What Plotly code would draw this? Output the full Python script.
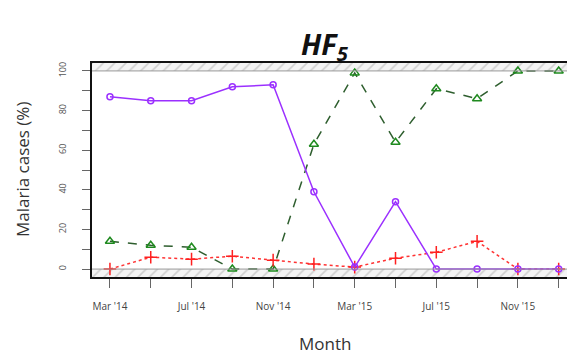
import plotly.graph_objects as go

months = ["Mar '14", "May '14", "Jul '14", "Sep '14", "Nov '14", "Jan '15",
          "Mar '15", "May '15", "Jul '15", "Sep '15", "Nov '15", "Jan '16"]
label_idx = [0, 2, 4, 6, 8, 10]
tick_labels = ["Mar '14", "Jul '14", "Nov '14", "Mar '15", "Jul '15", "Nov '15"]
purple_vals = [87, 85, 85, 92, 93, 39, 1, 34, 0, 0, 0, 0]
green_vals = [14, 12, 11, 0, 0, 63, 99, 64, 91, 86, 100, 100]
red_vals = [0, 6, 5, 6.5, 4.5, 2.5, 1, 5.5, 8.5, 14, 0, 0]
y_ticks = [0, 20, 40, 60, 80, 100]
y_labels = ["0", "20", "40", "60", "80", "100"]

x = list(range(len(months)))
fig = go.Figure()

# hatched bands outside 0-100
for base, h in [(100, 5), (-5, 5)]:
    fig.add_trace(go.Bar(x=[5.5], y=[h], base=[base], width=[14],
                         marker=dict(color="#eeeeee", line=dict(width=0),
                                     pattern=dict(shape="/", fgcolor="#aaaaaa", bgcolor="#f4f4f4", size=8, solidity=0.2)),
                         showlegend=False, hoverinfo="skip"))

fig.add_trace(go.Scatter(x=x, y=green_vals, mode="lines+markers",
                         line=dict(color="#2e5e2e", dash="dash", width=1.5),
                         marker=dict(symbol="triangle-up-open", size=8, color="#1f8a1f", line=dict(width=1.5)),
                         showlegend=False))
fig.add_trace(go.Scatter(x=x, y=red_vals, mode="lines+markers",
                         line=dict(color="#ff3333", dash="dot", width=1.5),
                         marker=dict(symbol="cross-thin-open", size=9, color="#ff2020", line=dict(width=1.5, color="#ff2020")),
                         showlegend=False))
fig.add_trace(go.Scatter(x=x, y=purple_vals, mode="lines+markers",
                         line=dict(color="#9b30ff", width=1.5),
                         marker=dict(symbol="circle-open", size=6, color="#9b30ff", line=dict(width=1.5)),
                         showlegend=False))

# page body has an 8px margin; design in screen pixels and shift by 8
OFF = 8
W, H = 575 - OFF, 357 - OFF
L, T, R = 92 - OFF, 63 - OFF, 0
B = H - (277 - OFF)
pw, ph = W - L - R, H - T - B

def px(sx):
    return (sx - OFF - L) / pw

def py(sy):
    return (H - B - (sy - OFF)) / ph

fig.update_layout(
    width=W, height=H,
    margin=dict(l=L, r=R, t=T, b=B, autoexpand=False),
    paper_bgcolor="white", plot_bgcolor="white",
    barmode="overlay",
    font=dict(family="Open Sans", color="#333"),
    annotations=[
        dict(text="<b><i>HF<sub>5</sub></i></b>", x=px(325), y=py(45), xref="paper", yref="paper",
             xanchor="center", yanchor="middle",
             showarrow=False, font=dict(family="Open Sans", size=29, color="#111")),
        dict(text="Month", x=px(325), y=py(343), xref="paper", yref="paper",
             xanchor="center", yanchor="middle",
             showarrow=False, font=dict(size=17, color="#333")),
        dict(text="Malaria cases (%)", x=px(22), y=py(170), xref="paper", yref="paper", textangle=-90,
             xanchor="center", yanchor="middle",
             showarrow=False, font=dict(size=17, color="#333")),
    ],
)

fig.update_xaxes(range=[-0.44, 11.4], tickmode="array", tickvals=label_idx, ticktext=tick_labels,
                 ticks="outside", ticklen=9, tickcolor="#666",
                 minor=dict(tickmode="linear", tick0=0, dtick=1, ticks="outside", ticklen=9, tickcolor="#666"),
                 tickfont=dict(size=10, color="#444"), ticklabelstandoff=10,
                 showgrid=False, zeroline=False, automargin=False,
                 showline=True, linecolor="#111", linewidth=2, mirror=True)
fig.update_yaxes(range=[-4, 104], tickmode="array", tickvals=y_ticks, ticktext=y_labels,
                 ticks="outside", ticklen=8, tickcolor="#666",
                 minor=dict(tickmode="linear", tick0=0, dtick=10, ticks="outside", ticklen=8, tickcolor="#666"),
                 tickangle=-90, tickfont=dict(size=9, color="#555"), ticklabelstandoff=12,
                 showgrid=False, zeroline=False, automargin=False,
                 showline=True, linecolor="#111", linewidth=2)
fig.add_hline(y=100, line=dict(color="#999", width=1))
fig.add_hline(y=0, line=dict(color="#999", width=1))

fig.write_html("out.html")
